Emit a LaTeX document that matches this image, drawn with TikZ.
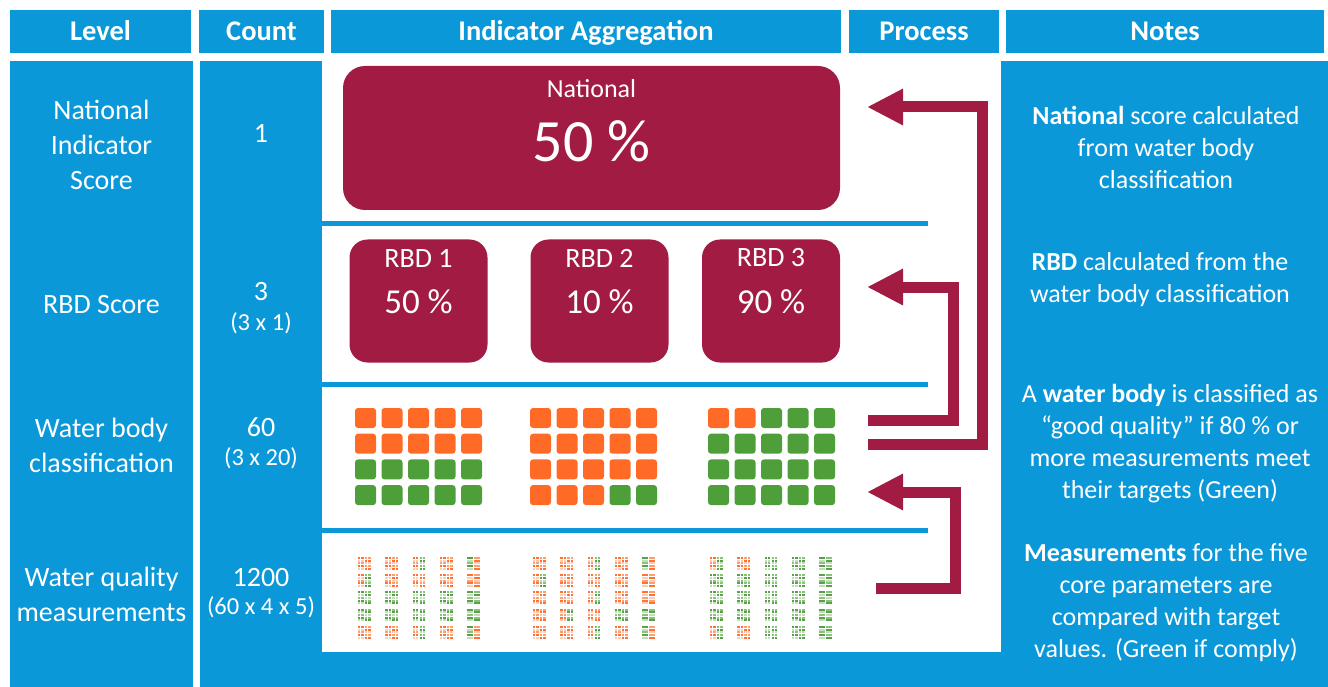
\documentclass[tikz,border=0pt]{standalone}
\usepackage{fontspec}
\setmainfont{Carlito}
\usetikzlibrary{arrows.meta,positioning}

\definecolor{hdrblue}{RGB}{11,152,217}
\definecolor{wine}{RGB}{161,27,66}
\definecolor{amber}{RGB}{255,107,38}
\definecolor{leaf}{RGB}{78,159,58}
\colorlet{co}{amber}
\colorlet{cg}{leaf}

% one water body of measurements, 4 x 5 dots (left pair, right pair)
\newcommand\measgroup[4]{%
  \foreach \du/\dcol in {0/#3,3.2/#3,7/#4,10.2/#4}
    \foreach \w in {0,...,4}{
      \pgfmathsetmacro\op{0.95-0.3*mod(round(\du)+2*\w,3)}
      \fill[\dcol,fill opacity=\op] (#1+\du,#2+2.7*\w) rectangle ++(2.4,2);
    }}

\begin{document}
\begin{tikzpicture}[x=1pt,y=-1pt,
    hdr/.style={fill=hdrblue,text=white,inner sep=0pt,minimum height=43pt,
      font=\fontsize{28.5}{32}\selectfont\bfseries,text height=22pt,text depth=4pt},
    side/.style={text=white,align=center,font=\fontsize{28}{35}\selectfont},
    small/.style={text=white,font=\fontsize{24.5}{28}\selectfont},
    note/.style={text=white,align=center,font=\fontsize{26}{32}\selectfont},
    score/.style={fill=wine,draw=none},
    onbox/.style={text=white,inner sep=0pt},
    sep/.style={draw=hdrblue,line width=5pt},
    flow/.style={draw=wine,line width=11pt,line join=miter,
      -{Triangle[length=36pt,width=34pt]}}]

  \useasboundingbox (0,0) rectangle (1328,687);

  % header row
  \node[hdr,minimum width=181pt] (hlevel) at (100.5,31.5) {Level};
  \node[hdr,minimum width=125pt] (hcount) at (261.5,31.5) {Count};
  \node[hdr,minimum width=510pt] (hagg) at (586,31.5) {Indicator Aggregation};
  \node[hdr,minimum width=150pt] (hproc) at (924,31.5) {Process};
  \node[hdr,minimum width=318pt] (hnotes) at (1165,31.5) {Notes};

  % panels
  \fill[hdrblue] (10,61) rectangle (193,687);
  \fill[hdrblue] (200,61) rectangle (1328,687);
  \fill[white] (322,56) rectangle (1001,652);
  \foreach \y in {224,384,530}
    \draw[sep] (322,\y) -- (928,\y);

  % scores
  \node[score,rounded corners=22pt,minimum width=497pt,minimum height=144pt] (nat) at (591.5,138) {};
  \node[onbox,font=\fontsize{26}{30}\selectfont] (natname) at (591.5,89) {National};
  \node[onbox,font=\fontsize{60}{66}\selectfont] (natval) at (591.5,141) {50~\%};

  \foreach \i/\cx/\val in {1/418.5/50,2/599.5/10,3/771/90}{
    \node[score,rounded corners=18pt,minimum width=138pt,minimum height=123pt] (rbd\i) at (\cx,301) {};
    \node[onbox,font=\fontsize{28}{32}\selectfont] (rbd\i name) at (\cx,258) {RBD \i};
    \node[onbox,font=\fontsize{35}{40}\selectfont] (rbd\i val) at (\cx,302) {\val~\%};
  }

  % water bodies
  \foreach \gx/\nbad in {355/10,530/18,708/2}
    \foreach \r in {0,...,3}
      \foreach \c in {0,...,4}{
        \pgfmathtruncatemacro\k{5*\r+\c}
        \ifnum\k<\nbad\def\sq{amber}\else\def\sq{leaf}\fi
        \fill[\sq,rounded corners=3pt] (\gx+26.5*\c,408+25.7*\r) rectangle ++(21,20);
      }

  % measurements
  \foreach \cl/\cr [count=\n from 0] in {co/co,co/co,co/cg,co/co,cg/co,
      co/cg,co/co,co/co,co/co,co/co, cg/cg,cg/cg,cg/cg,cg/cg,cg/cg,
      cg/cg,cg/cg,cg/cg,cg/cg,cg/cg, co/co,co/co,co/cg,co/co,cg/co}{
    \pgfmathsetmacro\mx{358+27.3*mod(\n,5)}
    \pgfmathsetmacro\my{557+17.2*div(\n,5)}
    \measgroup{\mx}{\my}{\cl}{\cr}}
  \foreach \cl/\cr [count=\n from 0] in {co/co,co/co,co/cg,co/co,cg/co,
      co/cg,co/co,co/co,co/co,co/co, co/co,co/co,co/cg,co/co,co/co,
      co/co,co/cg,co/co,cg/cg,cg/cg, co/co,co/co,co/cg,co/co,cg/co}{
    \pgfmathsetmacro\mx{533+27.3*mod(\n,5)}
    \pgfmathsetmacro\my{557+17.2*div(\n,5)}
    \measgroup{\mx}{\my}{\cl}{\cr}}
  \foreach \cl/\cr [count=\n from 0] in {co/cg,co/co,cg/cg,cg/cg,cg/cg,
      cg/cg,cg/cg,cg/cg,cg/cg,cg/cg, cg/cg,cg/cg,cg/cg,cg/cg,cg/cg,
      cg/cg,cg/cg,cg/cg,cg/cg,cg/cg, co/cg,co/co,cg/cg,cg/cg,cg/cg}{
    \pgfmathsetmacro\mx{710+27.3*mod(\n,5)}
    \pgfmathsetmacro\my{557+17.2*div(\n,5)}
    \measgroup{\mx}{\my}{\cl}{\cr}}

  % process arrows
  \coordinate (natin) at (867,107);
  \coordinate (natturn) at (982,107);
  \coordinate (natfrom) at (868,444);
  \coordinate (rbdin) at (867,287);
  \coordinate (rbdturn) at (953,287);
  \coordinate (rbdfrom) at (868,420);
  \coordinate (wbin) at (867,492);
  \coordinate (wbturn) at (955,492);
  \coordinate (wbfrom) at (876,588);
  \draw[flow] (natfrom) -| (natturn) -- (natin);
  \draw[flow] (rbdfrom) -| (rbdturn) -- (rbdin);
  \draw[flow] (wbfrom) -| (wbturn) -- (wbin);

  % level column
  \node[side] (lv1) at (101.5,145) {National\\Indicator\\Score};
  \node[side] (lv2) at (101.5,305) {RBD Score};
  \node[side] (lv3) at (101.5,445) {Water body\\classification};
  \node[side] (lv4) at (101.5,594) {Water quality\\measurements};

  % count column
  \node[side] (ct1) at (261,133) {1};
  \node[side] (ct2) at (261,292) {3};
  \node[small,below=4pt of ct2] (ct2x) {(3 x 1)};
  \node[side] (ct3) at (261,427) {60};
  \node[small,below=4pt of ct3] (ct3x) {(3 x 20)};
  \node[side] (ct4) at (261,578) {1200};
  \node[small,below=2pt of ct4] (ct4x) {(60 x 4 x 5)};

  % notes column
  \node[note] (nt1) at (1166,147) {\textbf{National} score calculated\\from water body\\classification};
  \node[note] (nt2) at (1160,280) {\textbf{RBD} calculated from the\\water body classification};
  \node[note] (nt3) at (1170,444) {A \textbf{water body} is classified as\\“good quality” if 80 \% or\\more measurements meet\\their targets (Green)};
  \node[note] (nt4) at (1166,603) {\textbf{Measurements} for the five\\core parameters are\\compared with target\\values. (Green if comply)};
\end{tikzpicture}
\end{document}
